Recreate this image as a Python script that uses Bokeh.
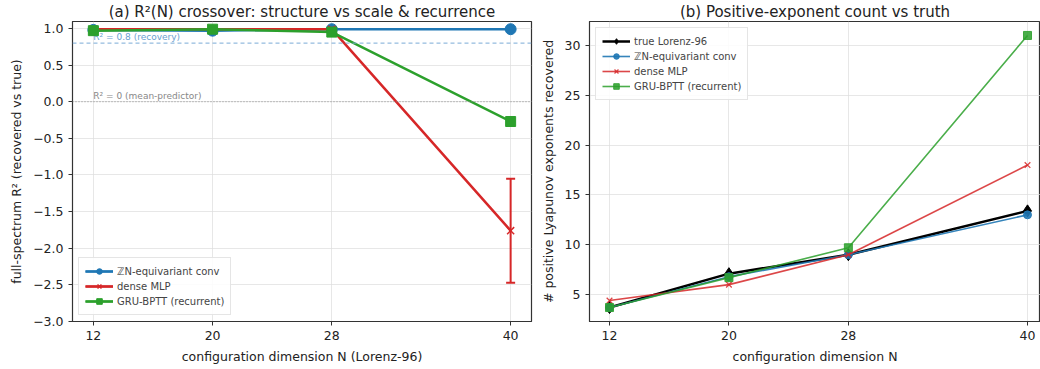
from bokeh.plotting import figure
from bokeh.layouts import row
from bokeh.models import FixedTicker, Span, CustomJSTickFormatter, Range1d, Legend
from bokeh.core.properties import value
from bokeh.embed import file_html
from bokeh.resources import INLINE

# ---------------- data ----------------
N = [12, 20, 28, 40]
# panel (a): full-spectrum R^2
r2_conv = [0.98, 0.97, 0.99, 0.99]
r2_conv_err = [0.01, 0.01, 0.01, 0.01]
r2_mlp = [0.99, 0.99, 0.99, -1.76]
r2_mlp_err = [0.01, 0.01, 0.02, 0.71]
r2_gru = [0.97, 0.99, 0.95, -0.27]
r2_gru_err = [0.01, 0.01, 0.01, 0.01]
# panel (b): positive exponent counts
cnt_true = [3.7, 7.1, 9.0, 13.4]
cnt_conv = [3.7, 6.8, 9.0, 13.0]
cnt_mlp = [4.4, 6.0, 9.0, 18.0]
cnt_gru = [3.7, 6.7, 9.7, 31.0]
x_ticks = [12, 20, 28, 40]
r2_ticks = [-3.0, -2.5, -2.0, -1.5, -1.0, -0.5, 0.0, 0.5, 1.0]
cnt_ticks = [5, 10, 15, 20, 25, 30]

BLUE = "#1f77b4"
RED = "#d62728"
GREEN = "#2ca02c"
FONT = "DejaVu Sans"


def style(p):
    p.outline_line_color = "#333333"
    p.outline_line_width = 1.2
    p.background_fill_color = "white"
    p.border_fill_color = "white"
    p.title.text_font = FONT
    p.title.text_font_size = "15px"
    p.title.text_font_style = "normal"
    p.title.align = "center"
    p.title.text_color = "#222222"
    p.title.standoff = 1
    p.title.offset = 0
    for ax in (p.xaxis[0], p.yaxis[0]):
        ax.axis_label_text_font = FONT
        ax.axis_label_text_font_size = "12.5px"
        ax.axis_label_text_font_style = "normal"
        ax.axis_label_text_color = "#222222"
        ax.major_label_text_font = FONT
        ax.major_label_text_font_size = "12.5px"
        ax.major_label_text_color = "#222222"
        ax.minor_tick_line_color = None
        ax.major_tick_out = 4
        ax.major_tick_in = 0
        ax.axis_line_color = "#333333"
        ax.major_tick_line_color = "#333333"
    p.xaxis[0].axis_label_standoff = 6
    p.yaxis[0].axis_label_standoff = 6
    p.grid.grid_line_color = "#dddddd"
    p.grid.grid_line_alpha = 0.7
    p.xaxis[0].ticker = FixedTicker(ticks=x_ticks)


# ---------------- panel (a) ----------------
pa = figure(width=537, height=369, output_backend="svg", toolbar_location=None,
            x_range=Range1d(10.6, 41.4), y_range=Range1d(-3.0, 1.095),
            title="(a) R²(N) crossover: structure vs scale & recurrence",
            x_axis_label="configuration dimension N (Lorenz-96)",
            y_axis_label="full-spectrum R² (recovered vs true)",
            min_border_left=72, min_border_right=6, min_border_top=20,
            min_border_bottom=48)
style(pa)
pa.yaxis[0].ticker = FixedTicker(ticks=r2_ticks)
pa.yaxis[0].formatter = CustomJSTickFormatter(code="return tick.toFixed(1).replace('-', '\u2212');")

pa.add_layout(Span(location=0.8, dimension="width", line_color="#7aaad6",
                   line_dash="4 3", line_width=1))
pa.add_layout(Span(location=0.0, dimension="width", line_color="#888888",
                   line_dash="1 2", line_width=1))
pa.text(x=[12], y=[0.81], text=["R² = 0.8 (recovery)"], text_color="#6a9fd0",
        text_font=value(FONT), text_font_size="9px", text_baseline="bottom")
pa.text(x=[12], y=[0.01], text=["R² = 0 (mean-predictor)"], text_color="#888888",
        text_font=value(FONT), text_font_size="9px", text_baseline="bottom")

items = []
for ys, es, col, mk, lab, sz in [
        (r2_conv, r2_conv_err, BLUE, "circle", "ℤN-equivariant conv", 11),
        (r2_mlp, r2_mlp_err, RED, "x", "dense MLP", 10),
        (r2_gru, r2_gru_err, GREEN, "square", "GRU-BPTT (recurrent)", 10)]:
    lo = [y - e for y, e in zip(ys, es)]
    hi = [y + e for y, e in zip(ys, es)]
    seg = pa.segment(x0=N, y0=lo, x1=N, y1=hi, line_color=col, line_width=2)
    c1 = pa.scatter(x=N, y=lo, marker="dash", size=9, line_color=col, line_width=2)
    c2 = pa.scatter(x=N, y=hi, marker="dash", size=9, line_color=col, line_width=2)
    ln = pa.line(x=N, y=ys, line_color=col, line_width=2.5)
    if mk == "x":
        sc = pa.scatter(x=N, y=ys, marker=mk, size=sz, line_color=col, line_width=1.5)
    else:
        sc = pa.scatter(x=N, y=ys, marker=mk, size=sz, fill_color=col, line_color=col)
    items.append((lab, [ln, sc, seg]))

lega = Legend(items=items, location="bottom_left", label_text_font=FONT,
              label_text_font_size="10px", glyph_width=28, glyph_height=14,
              label_height=14, spacing=1, padding=6, margin=6,
              border_line_color="#cccccc", background_fill_alpha=0.85,
              label_standoff=4)
pa.add_layout(lega)

# ---------------- panel (b) ----------------
pb = figure(width=503, height=369, output_backend="svg", toolbar_location=None,
            x_range=Range1d(10.66, 40.87), y_range=Range1d(2.3, 32.4),
            title="(b) Positive-exponent count vs truth",
            x_axis_label="configuration dimension N",
            y_axis_label="# positive Lyapunov exponents recovered",
            min_border_left=49, min_border_right=0, min_border_top=20,
            min_border_bottom=48)
style(pb)
pb.yaxis[0].ticker = FixedTicker(ticks=cnt_ticks)

itemsb = []
for ys, col, mk, lab, lw, sz, al in [
        (cnt_true, "black", "diamond", "true Lorenz-96", 2.5, 12, 1.0),
        (cnt_conv, BLUE, "circle", "ℤN-equivariant conv", 1.6, 8, 0.9),
        (cnt_mlp, RED, "x", "dense MLP", 1.6, 8, 0.85),
        (cnt_gru, GREEN, "square", "GRU-BPTT (recurrent)", 1.6, 8, 0.85)]:
    ln = pb.line(x=N, y=ys, line_color=col, line_width=lw, line_alpha=al)
    if mk == "x":
        sc = pb.scatter(x=N, y=ys, marker=mk, size=sz, line_color=col, line_width=1.3,
                        line_alpha=al)
    else:
        sc = pb.scatter(x=N, y=ys, marker=mk, size=sz, fill_color=col, line_color=col,
                        fill_alpha=al, line_alpha=al)
    itemsb.append((lab, [ln, sc]))

legb = Legend(items=itemsb, location="top_left", label_text_font=FONT,
              label_text_font_size="10px", glyph_width=28, glyph_height=14,
              label_height=14, spacing=1, padding=6, margin=6,
              border_line_color="#cccccc", background_fill_alpha=0.85,
              label_standoff=4)
pb.add_layout(legb)

layout = row(pa, pb)
open("out.html", "w").write(file_html(layout, INLINE))
